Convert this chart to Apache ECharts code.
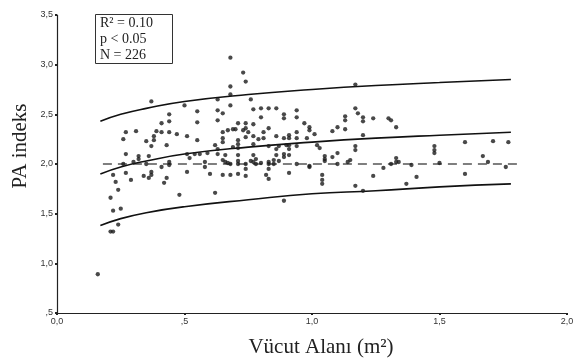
<!DOCTYPE html>
<html>
<head>
<meta charset="utf-8">
<script src="https://cdn.jsdelivr.net/npm/echarts@6/dist/echarts.min.js"></script>
<style>html,body{margin:0;padding:0;background:#fff}#c{width:585px;height:364px}</style>
</head>
<body>
<div id="c"></div>
<script>
// scatter points: [Vücut Alanı (m2), PA indeks]
const points = [
[0.37,2.63],[0.50,2.59],[0.44,2.50],[0.44,2.43],[0.41,2.41],[0.27,2.32],[0.31,2.33],[0.39,2.33],[0.41,2.32],[0.44,2.32],
[0.47,2.30],[0.51,2.28],[0.26,2.25],[0.38,2.28],[0.38,2.24],[0.35,2.23],[0.37,2.18],[0.43,2.19],[0.27,2.10],[0.32,2.08],
[0.32,2.05],[0.36,2.08],[0.51,2.10],[0.52,2.06],[0.44,1.99],[0.44,2.02],[0.41,1.97],[0.26,2.00],[0.30,2.02],[0.35,2.00],
[0.59,2.11],
[0.22,1.89],[0.27,1.91],[0.23,1.82],[0.24,1.74],[0.21,1.66],[0.22,1.53],[0.25,1.55],[0.24,1.39],[0.21,1.32],[0.22,1.32],
[0.29,1.84],[0.34,1.88],[0.36,1.86],[0.37,1.89],[0.37,1.92],[0.43,1.86],[0.42,1.81],[0.48,1.69],[0.51,1.92],[0.16,0.89],
[0.68,3.07],[0.73,2.92],[0.74,2.83],[0.68,2.78],[0.63,2.65],[0.68,2.70],[0.76,2.65],[0.55,2.53],[0.63,2.54],[0.65,2.51],
[0.68,2.59],[0.77,2.55],[0.80,2.56],[0.83,2.56],[0.86,2.56],[0.89,2.50],[0.89,2.46],[0.55,2.42],[0.63,2.44],[0.80,2.47],
[0.71,2.41],[0.74,2.41],[0.77,2.40],[0.83,2.36],[0.67,2.34],[0.69,2.35],[0.70,2.35],[0.73,2.34],[0.74,2.36],[0.65,2.32],
[0.75,2.32],[0.81,2.32],[0.65,2.26],[0.74,2.27],[0.77,2.28],[0.79,2.25],[0.81,2.26],[0.86,2.28],[0.89,2.26],[0.91,2.29],
[0.91,2.26],[0.55,2.24],[0.65,2.22],[0.71,2.24],[0.71,2.20],[0.77,2.20],[0.62,2.19],[0.63,2.15],[0.63,2.10],[0.69,2.17],
[0.71,2.16],[0.83,2.18],[0.86,2.15],[0.87,2.18],[0.90,2.19],[0.91,2.19],[0.91,2.15],[0.54,2.10],[0.56,2.10],[0.66,2.09],
[0.71,2.09],[0.77,2.09],[0.86,2.09],[0.89,2.10],[0.89,2.07],[0.91,2.09],[0.65,2.04],[0.66,2.02],[0.71,2.03],[0.76,2.03],
[0.78,2.05],[0.85,2.04],
[1.17,2.80],[1.17,2.56],[1.18,2.51],[1.20,2.47],[1.20,2.43],[1.24,2.46],[1.30,2.46],[1.31,2.44],[1.33,2.37],[1.13,2.48],
[1.13,2.44],[1.13,2.35],[1.10,2.37],[1.08,2.33],[1.20,2.29],[0.94,2.54],[0.94,2.47],[0.97,2.41],[0.99,2.37],[0.99,2.34],
[1.01,2.30],[0.94,2.32],[0.94,2.26],[0.98,2.26],[0.94,2.18],[1.02,2.19],[1.03,2.16],[1.17,2.18],[1.17,2.14],[1.05,2.08],
[1.05,2.05],[1.08,2.07],[1.10,2.11],[1.15,2.04],[1.33,2.06],
[1.28,1.96],[0.99,1.98],[0.94,2.00],[0.91,1.91],[0.82,1.89],[0.83,1.85],[1.04,1.89],[1.04,1.84],[1.04,1.80],[1.24,1.88],
[1.17,1.78],[0.87,2.03],[0.85,2.00],[0.83,2.00],[0.65,1.89],[0.68,1.89],[0.71,1.90],[0.74,1.88],[0.71,2.00],[0.67,2.01],
[0.78,2.00],[0.80,2.01],[0.83,2.02],[0.58,2.02],[0.58,1.97],[0.60,1.90],[0.62,1.71],[0.68,2.00],[0.74,2.00],[0.74,1.95],
[0.77,2.02],[0.83,1.95],[0.89,1.63],[0.99,1.97],[1.05,2.03],[1.10,2.00],[1.14,2.02],[1.31,2.00],[1.33,2.02],[1.20,1.73],
[1.34,2.02],[1.39,1.99],[1.37,1.80],[1.41,1.87],[1.48,2.18],[1.48,2.14],[1.48,2.11],[1.50,2.01],[1.60,2.22],[1.60,1.90],
[1.67,2.08],[1.69,2.02],[1.71,2.23],[1.76,1.97],[1.77,2.22]
];
// fitted curves
const curveX = [0.17, 0.25, 0.35, 0.5, 0.75, 1.0, 1.25, 1.5, 1.78];
const upperY = [2.43, 2.50, 2.56, 2.63, 2.70, 2.75, 2.79, 2.82, 2.85];
const fitY   = [1.90, 1.97, 2.03, 2.10, 2.17, 2.22, 2.26, 2.29, 2.32];
const lowerY = [1.38, 1.45, 1.51, 1.57, 1.64, 1.70, 1.73, 1.77, 1.80];
// reference dashed line
const refX = [0.18, 1.82];
const refY = [2.0, 2.0];
const yTickLabels = {0.5: ',5', 1: '1,0', 1.5: '1,5', 2: '2,0', 2.5: '2,5', 3: '3,0', 3.5: '3,5'};
const xTickLabels = {0: '0,0', 0.5: ',5', 1: '1,0', 1.5: '1,5', 2: '2,0'};
const statLines = ['R² = 0.10', 'p < 0.05', 'N = 226'];

const zip = (xs, ys) => xs.map((x, i) => [x, ys[i]]);
const chart = echarts.init(document.getElementById('c'));
const curveStyle = {color: '#111', width: 1.6};
chart.setOption({
  animation: false,
  backgroundColor: '#fff',
  grid: {left: 57, right: 18, top: 15, bottom: 51},
  xAxis: {
    type: 'value', min: 0, max: 2, interval: 0.5,
    axisLine: {lineStyle: {color: '#222', width: 1.2}},
    axisTick: {show: true, length: 2, lineStyle: {color: '#222', width: 2}},
    splitLine: {show: false},
    axisLabel: {color: '#333', fontSize: 9, fontFamily: 'Liberation Sans', margin: 4,
      formatter: v => xTickLabels[v] !== undefined ? xTickLabels[v] : ''}
  },
  yAxis: {
    type: 'value', min: 0.5, max: 3.5, interval: 0.5,
    axisLine: {show: true, lineStyle: {color: '#222', width: 1.2}},
    axisTick: {show: true, length: 2, lineStyle: {color: '#222', width: 2}},
    splitLine: {show: false},
    axisLabel: {color: '#333', fontSize: 9, fontFamily: 'Liberation Sans', margin: 4,
      formatter: v => yTickLabels[v] !== undefined ? yTickLabels[v] : ''}
  },
  series: [
    {type: 'line', data: zip(refX, refY), showSymbol: false, silent: true,
     lineStyle: {color: '#555', width: 1.6, type: [9, 6]}, z: 1},
    {type: 'line', data: zip(curveX, upperY), smooth: true, showSymbol: false, lineStyle: curveStyle, z: 2},
    {type: 'line', data: zip(curveX, fitY), smooth: true, showSymbol: false, lineStyle: curveStyle, z: 2},
    {type: 'line', data: zip(curveX, lowerY), smooth: true, showSymbol: false, lineStyle: curveStyle, z: 2},
    {type: 'scatter', data: points, symbolSize: 4.3, itemStyle: {color: '#1c1c1c'}, z: 3}
  ],
  graphic: [
    {type: 'rect', left: 95, top: 14, shape: {width: 77, height: 49},
     style: {fill: '#fff', stroke: '#333', lineWidth: 1}, z: 10},
    {type: 'text', left: 100, top: 15, z: 11,
     style: {text: statLines.join('\n'), font: '14px "Liberation Serif"', fill: '#222', lineHeight: 16.3}},
    {type: 'text', x: 20, y: 146, rotation: Math.PI / 2, z: 11,
     style: {text: 'PA indeks', font: '21px "Liberation Serif"', fill: '#222', align: 'center', verticalAlign: 'middle'}},
    {type: 'text', x: 321, y: 347, z: 11,
     style: {text: 'Vücut Alanı (m²)', font: '21px "Liberation Serif"', fill: '#222', align: 'center', verticalAlign: 'middle'}}
  ]
});
</script>
</body>
</html>
